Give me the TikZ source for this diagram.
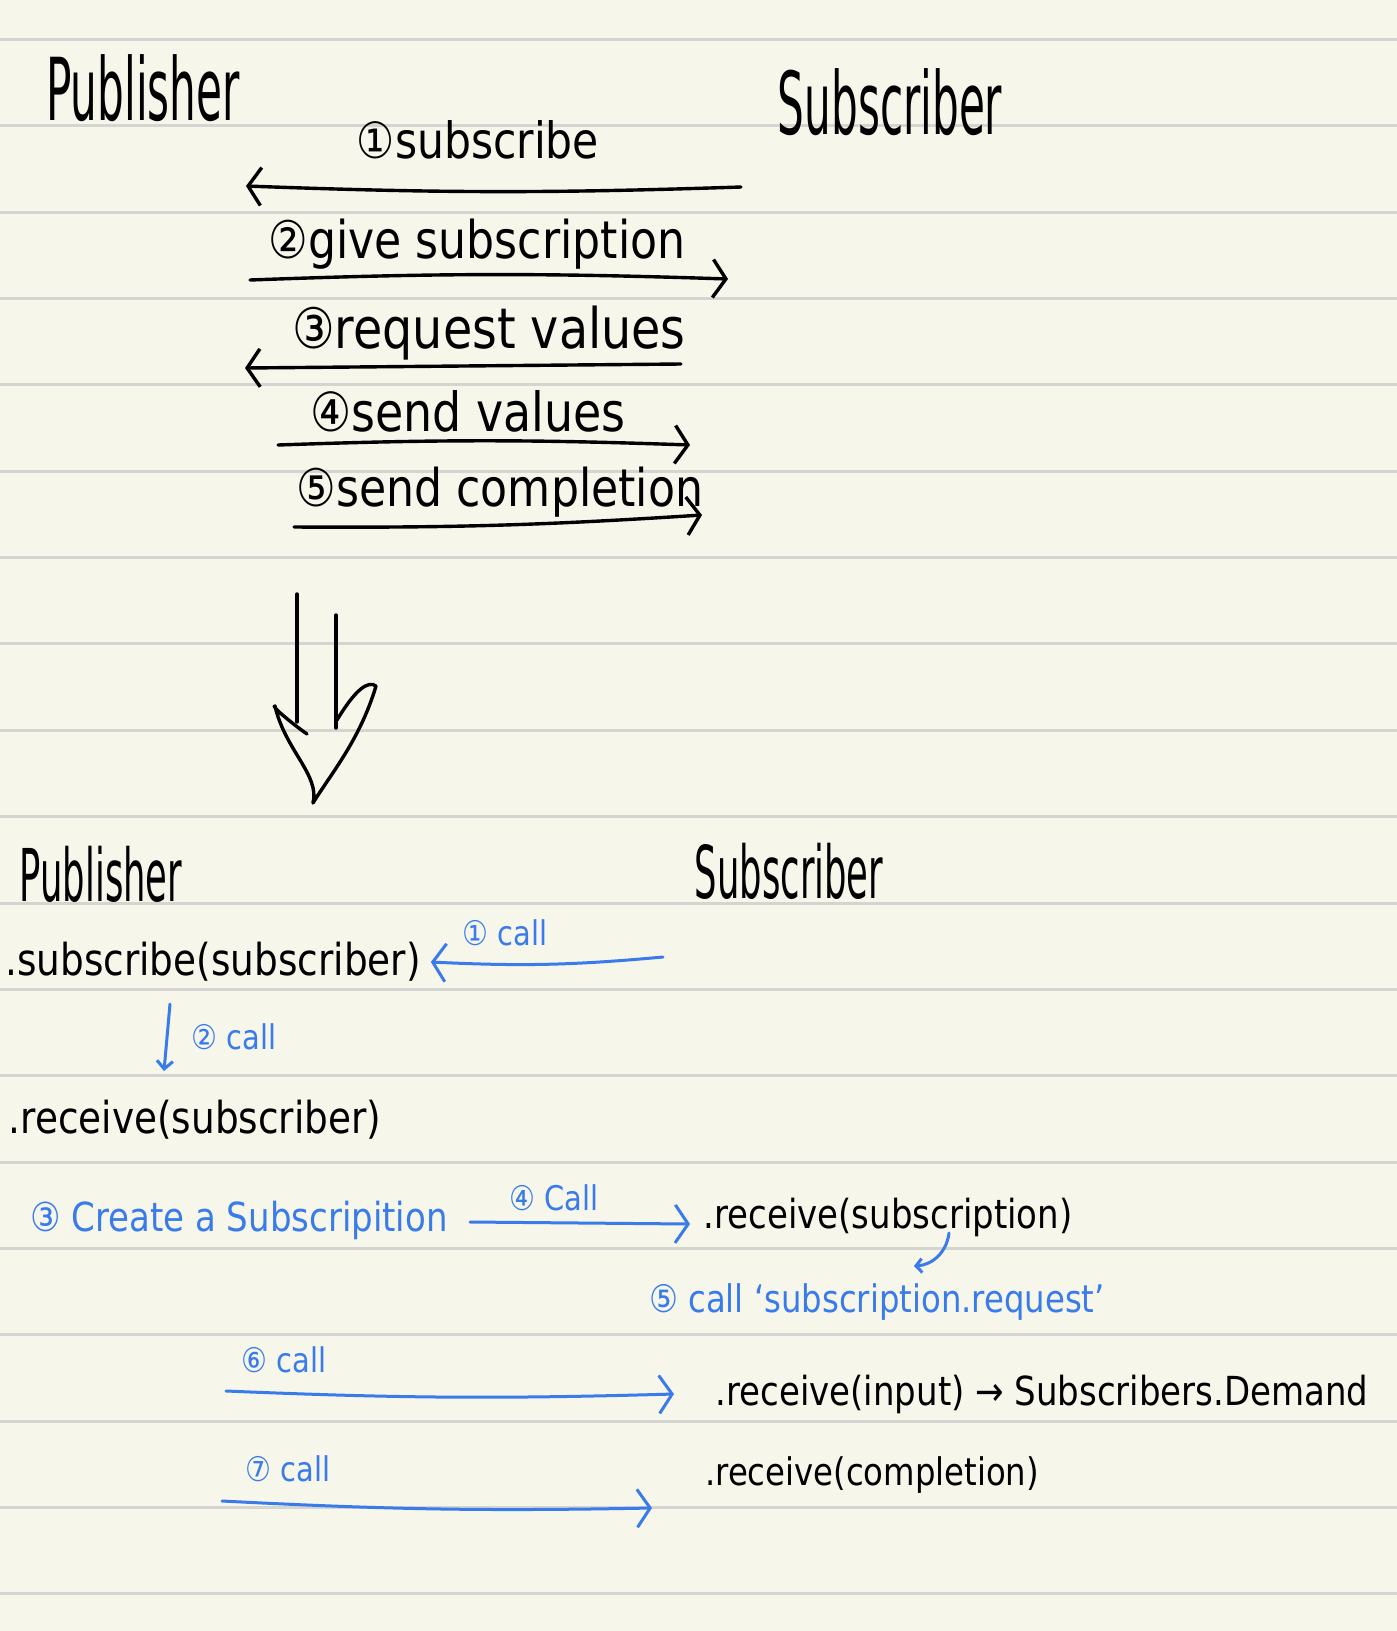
\documentclass[tikz,border=0pt]{standalone}
\usepackage{fontspec}
\setmainfont{DejaVu Sans}
\usepackage{xcolor}
\usetikzlibrary{arrows.meta, positioning, calc}

\definecolor{paper}{HTML}{F6F6EA}
\definecolor{ruling}{HTML}{D4D4D0}
\definecolor{penblue}{HTML}{3A7BEB}

\begin{document}
\begin{tikzpicture}[x=1pt, y=-1pt,
    ink/.style={black, line width=3.4pt, line cap=round, line join=round},
    bluepen/.style={penblue, line width=3pt, line cap=round, line join=round},
    >={Straight Barb[length=13pt, width=38pt]},
    title/.style={inner sep=0pt, xscale=0.68, yscale=1.4},
    hand/.style={inner sep=0pt, xscale=0.85, font=\fontsize{44}{48}\selectfont},
    note/.style={hand, text=penblue}]

    % paper and ruled lines
    \fill[paper] (0,0) rectangle (1397,1631);
    \useasboundingbox (0,0) rectangle (1397,1631);
    \foreach \k in {0,...,18}
        \draw[ruling, line width=3pt] (0,{39.5+86.35*\k}) -- (1397,{39.5+86.35*\k});

    % --- first sketch ---
    \node[title, font=\fontsize{62}{66}\selectfont] (pub) at (143,88) {Publisher};
    \node[title, font=\fontsize{62}{66}\selectfont] (subr) at (890,102) {Subscriber};

    \node[hand, font=\fontsize{50}{54}\selectfont] (m1) at (478,140) {①subscribe};
    \node[hand, font=\fontsize{52}{56}\selectfont] (m2) at (477,244) {②give subscription};
    \node[hand, font=\fontsize{56}{60}\selectfont] (m3) at (489,333) {③request values};
    \node[hand, font=\fontsize{54}{58}\selectfont] (m4) at (468,411) {④send values};
    \node[hand, font=\fontsize{52}{56}\selectfont] (m5) at (500,492) {⑤send completion};

    \coordinate (a1s) at (741,187);  \coordinate (a1e) at (246,186);
    \coordinate (a2s) at (250,280);  \coordinate (a2e) at (728,279);
    \coordinate (a3s) at (681,364);  \coordinate (a3e) at (245,368);
    \coordinate (a4s) at (278,445);  \coordinate (a4e) at (690,445);
    \coordinate (a5s) at (294,527);  \coordinate (a5e) at (702,515);

    \draw[ink,->] (a1s) to[bend left=2] (a1e);
    \draw[ink,->] (a2s) to[bend left=2] (a2e);
    \draw[ink,->] (a3s) -- (a3e);
    \draw[ink,->] (a4s) to[bend left=2] (a4e);
    \draw[ink,->] (a5s) to[bend right=2] (a5e);

    % big hollow arrow down
    \draw[ink] (297,594) -- (297,722);
    \draw[ink] (336,615) -- (336,728);
    \draw[ink] (307,734) .. controls (290,722) and (270,705) .. (275,706)
        .. controls (285,750) and (320,775) .. (313,803)
        .. controls (330,775) and (360,740) .. (376,686)
        .. controls (368,680) and (355,690) .. (337,720);

    % --- second sketch ---
    \node[title, font=\fontsize{52}{56}\selectfont] (pub2) at (101,874) {Publisher};
    \node[title, font=\fontsize{52}{56}\selectfont] (subr2) at (789,871) {Subscriber};

    \node[hand] (sub) at (213,962) {.subscribe(subscriber)};
    \node[hand] (recv) at (195,1120) {.receive(subscriber)};
    \node[note, font=\fontsize{40}{44}\selectfont] (create) at (239,1220) {③ Create a Subscripition};
    \node[hand, font=\fontsize{40}{44}\selectfont] (recvsub) at (888,1217) {.receive(subscription)};
    \node[note, font=\fontsize{38}{42}\selectfont] (req) at (877,1302) {⑤ call `subscription.request'};
    \node[hand, font=\fontsize{40}{44}\selectfont] (recvin) at (1042,1394) {.receive(input) → Subscribers.Demand};
    \node[hand, font=\fontsize{38}{42}\selectfont] (recvdone) at (872,1475) {.receive(completion)};

    \node[note, font=\fontsize{34}{38}\selectfont] (c1) at (505,933) {① call};
    \node[note, font=\fontsize{34}{38}\selectfont] (c2) at (234,1037) {② call};
    \node[note, font=\fontsize{34}{38}\selectfont] (c4) at (554,1198) {④ Call};
    \node[note, font=\fontsize{34}{38}\selectfont] (c6) at (284,1360) {⑥ call};
    \node[note, font=\fontsize{34}{38}\selectfont] (c7) at (288,1469) {⑦ call};

    \coordinate (b1s) at (663,957);
    \coordinate (b2s) at (170,1004);  \coordinate (b2e) at (164,1071);
    \coordinate (b4s) at (470,1222);  \coordinate (b4e) at (690,1224);
    \coordinate (h1) at (949,1233);   \coordinate (h2) at (914,1266);
    \coordinate (b6s) at (226,1391);  \coordinate (b6e) at (674,1394);
    \coordinate (b7s) at (222,1501);  \coordinate (b7e) at (652,1508);

    \draw[bluepen,->] (b1s) to[bend left=4] ([xshift=10pt]sub.east);
    \draw[bluepen,->,>={Straight Barb[length=8pt, width=16pt]}] (b2s) -- (b2e);
    \draw[bluepen,->] (b4s) -- (b4e);
    \draw[bluepen,->,>={Straight Barb[length=6pt, width=14pt]}] (h1) to[bend left=40] (h2);
    \draw[bluepen,->] (b6s) to[bend right=2] (b6e);
    \draw[bluepen,->] (b7s) to[bend right=2] (b7e);
\end{tikzpicture}
\end{document}
